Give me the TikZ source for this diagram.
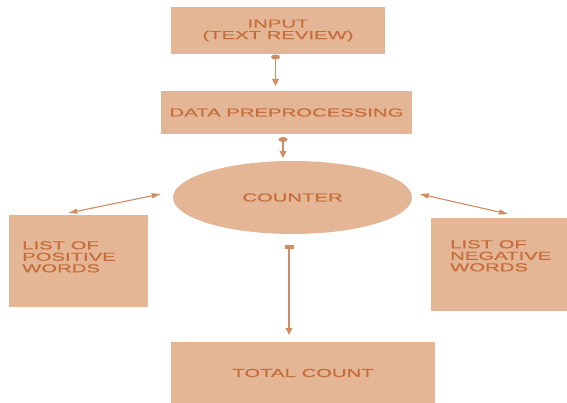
\documentclass[tikz,border=0pt]{standalone}
\usepackage{fontspec}
\newfontfamily\labfont[FakeStretch=1.75,FakeBold=0.6]{Liberation Sans}
\usetikzlibrary{arrows.meta,calc,shapes.geometric}
\definecolor{boxfill}{RGB}{229,182,150}
\definecolor{labcol}{RGB}{198,110,58}
\definecolor{linkcol}{RGB}{208,140,98}

\begin{document}
\begin{tikzpicture}[x=1pt,y=-1pt,
  labtext/.style={text=labcol, font=\labfont\fontsize{11.6}{11.5}\selectfont},
  box/.style={labtext, fill=boxfill, draw=none, inner sep=0pt, align=center},
  lab/.style={labtext, inner sep=0pt, align=left},
  link/.style={draw=linkcol, line width=1.1pt},
  flow/.style={link, -{Triangle[width=7pt,length=7pt]}},
  both/.style={link, {Triangle[width=5pt,length=9pt]}-{Triangle[width=5pt,length=9pt]}},
  dotmark/.style={ellipse, fill=linkcol, minimum width=9pt, minimum height=5pt, inner sep=0pt},
  sqmark/.style={rectangle, fill=linkcol, minimum width=9pt, minimum height=4pt, inner sep=0pt}]
\useasboundingbox (0,0) rectangle (567,403);
\fill[white] (0,0) rectangle (567,403);

% process blocks
\node[box, minimum width=214pt, minimum height=47pt] (inp) at (278,30.5) {INPUT\\(TEXT REVIEW)};
\node[box, minimum width=251pt, minimum height=43pt] (prep) at (286.5,112.5) {DATA PREPROCESSING};
\node[box, ellipse, minimum width=239pt, minimum height=73pt] (cnt) at (292.5,197.5) {COUNTER};
\node[box, minimum width=139pt, minimum height=92pt, anchor=north west] (pos) at (9,215) {};
\node[box, minimum width=136pt, minimum height=93pt, anchor=north west] (neg) at (431,218) {};
\node[box, minimum width=264pt, minimum height=62pt] (tot) at (303,373) {TOTAL COUNT};

% word-list captions, set flush left near the top of their boxes
\node[lab, anchor=north west] (posTxt) at ($(pos.north west)+(13,26)$) {LIST OF\\POSITIVE\\WORDS};
\node[lab, anchor=north west] (negTxt) at ($(neg.north west)+(19,22)$) {LIST OF\\NEGATIVE\\WORDS};

% connectors
\node[dotmark] (d1) at (275.5,57) {};
\draw[flow, shorten >=5pt] (d1.center) -- (d1.center |- prep.north);
\node[dotmark] (d2) at (283,139.5) {};
\draw[flow, shorten >=3pt] (d2.center) -- (d2.center |- cnt.north);
\node[sqmark] (s1) at (289,247) {};
\draw[flow, shorten >=7pt] (s1.center) -- (s1.center |- tot.north);

\draw[both] ($(cnt.west)+(-12,-3.5)$) -- ($(pos.north east)+(-80,-2)$);
\draw[both] ($(cnt.east)+(7.5,-3.5)$) -- ($(neg.north west)+(77,-4)$);
\end{tikzpicture}
\end{document}
